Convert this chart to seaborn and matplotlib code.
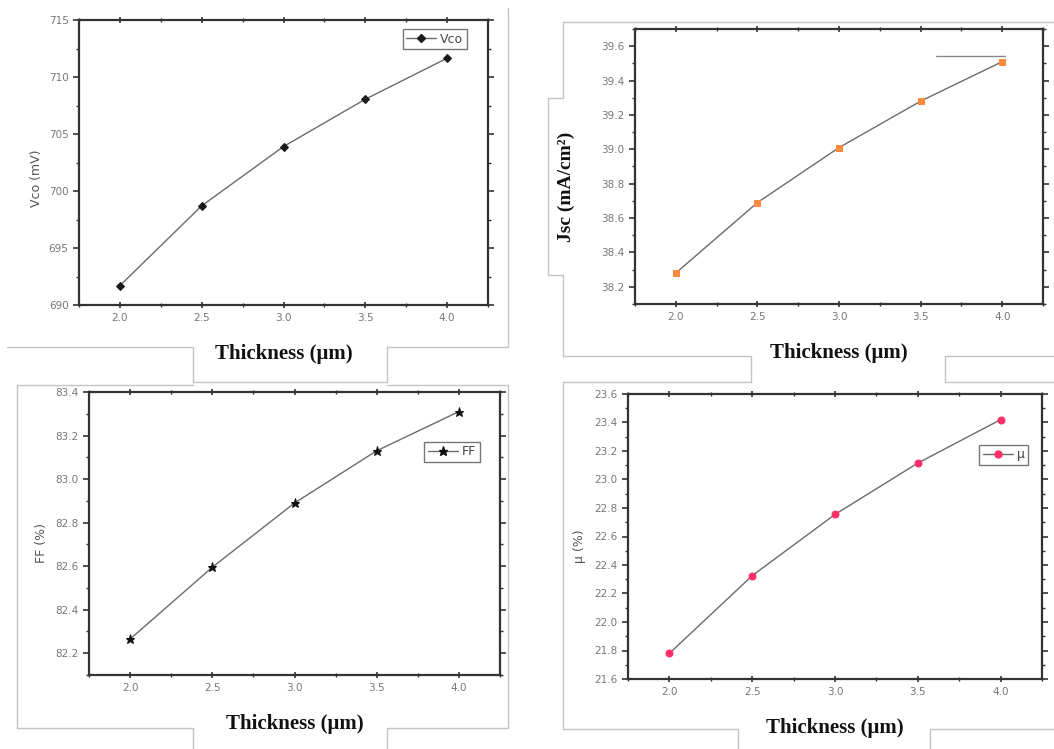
import numpy as np
import pandas as pd
import matplotlib
matplotlib.use("Agg")
import matplotlib.pyplot as plt
from matplotlib.ticker import AutoMinorLocator, MultipleLocator
from matplotlib.lines import Line2D
import seaborn as sns

# ---- data ----
thickness = [2.0, 2.5, 3.0, 3.5, 4.0]
voc = [691.7, 698.7, 703.9, 708.05, 711.65]
jsc = [38.28, 38.69, 39.01, 39.28, 39.51]
ff = [82.265, 82.595, 82.89, 83.13, 83.31]
eta = [21.78, 22.325, 22.755, 23.115, 23.42]

xlabel = "Thickness (\u03bcm)"
ylabels = ["Vco (mV)", "Jsc (mA/cm\u00b2)", "FF (%)", "\u03bc (%)"]
legend_labels = ["Vco", "", "FF", "\u03bc"]

sns.set_style("ticks")
plt.rcParams["font.family"] = ["DejaVu Sans"]

fig = plt.figure(figsize=(10.54, 7.49), dpi=100)
W, H = 1054.0, 749.0

def fr(l, t, r, b):
    return [l / W, 1 - b / H, (r - l) / W, (b - t) / H]

# decorative frames of the pasted panels
frame_c = "#c4c4c4"
def fline(xs, ys):
    fig.add_artist(Line2D([x / W for x in xs], [1 - y / H for y in ys],
                          color=frame_c, lw=1.0, transform=fig.transFigure))

fline([7, 193, 193, 387, 387, 508, 508], [347, 347, 382, 382, 347, 347, 8])
fline([1054, 563, 563, 548, 548, 563, 563, 751, 751], [22, 22, 98, 98, 275, 275, 356, 356, 382])
fline([945, 945, 1054], [382, 356, 356])
fline([193, 17, 17, 193, 193], [385, 385, 728, 728, 749])
fline([387, 508, 508, 387, 387], [385, 385, 728, 728, 749])
fline([751, 563, 563, 738, 738], [382, 382, 729, 729, 749])
fline([945, 1054], [382, 382])
fline([930, 930, 1054], [749, 729, 729])

panels = [
    dict(pos=fr(79, 20, 488, 305), y=voc, ylim=(690, 715), step=5,
         marker="D", ms=4.5, mc="#1a1a1a", ylab_kw=dict(fontsize=9, color="#555555"),
         ylab_xy=(-0.088, 0.446), leg_loc=(0.87, 0.933)),
    dict(pos=fr(635, 29, 1043, 304), y=jsc, ylim=(38.1, 39.7), step=0.2,
         marker="s", ms=4, mc="#ff8a3d",
         ylab_kw=dict(fontsize=14, color="#111111", family="Liberation Serif", weight="bold"),
         ylab_xy=(-0.148, 0.425), leg_loc=None),
    dict(pos=fr(89, 392, 500, 675), y=ff, ylim=(82.1, 83.4), step=0.2,
         marker="*", ms=6.5, mc="#111111", ylab_kw=dict(fontsize=9, color="#555555"),
         ylab_xy=(-0.10, 0.466), leg_loc=(0.883, 0.788)),
    dict(pos=fr(628, 394, 1042, 679), y=eta, ylim=(21.6, 23.6), step=0.2,
         marker="o", ms=5, mc="#ff2f6a", ylab_kw=dict(fontsize=9, color="#555555"),
         ylab_xy=(-0.102, 0.467), leg_loc=(0.908, 0.786)),
]

for i, p in enumerate(panels):
    ax = fig.add_axes(p["pos"])
    df = pd.DataFrame({"x": thickness, "y": p["y"]})
    sns.lineplot(data=df, x="x", y="y", ax=ax, color="#6b6b6b", lw=1.0,
                 marker=p["marker"], markersize=p["ms"], markerfacecolor=p["mc"],
                 markeredgecolor=p["mc"], legend=False)
    ax.set_xlim(1.75, 4.25)
    ax.set_ylim(*p["ylim"])
    ax.yaxis.set_major_locator(MultipleLocator(p["step"]))
    ax.yaxis.set_minor_locator(AutoMinorLocator(2))
    ax.set_xticks(thickness)
    ax.set_xticklabels([f"{t:.1f}" for t in thickness])
    ax.xaxis.set_minor_locator(AutoMinorLocator(2))
    for s in ax.spines.values():
        s.set_visible(True)
        s.set_linewidth(1.6)
        s.set_color("#333333")
    ax.tick_params(axis="both", which="both", top=True, right=True,
                   labelsize=7.5, labelcolor="#777777", color="#333333")
    ax.tick_params(axis="y", which="major", direction="out", length=4, width=1.2)
    ax.tick_params(axis="y", which="minor", direction="out", length=2, width=1.0)
    ax.tick_params(axis="x", which="major", direction="inout", length=5, width=1.2)
    ax.tick_params(axis="x", which="minor", direction="inout", length=3, width=1.0)
    ax.set_xlabel(xlabel, fontsize=15, fontweight="bold", family="Liberation Serif",
                  color="#111111", labelpad=15)
    ax.set_ylabel(ylabels[i], **p["ylab_kw"])
    ax.yaxis.set_label_coords(*p["ylab_xy"])
    if p.get("leg_loc") is not None:
        h = Line2D([], [], color="#6b6b6b", lw=1.0, marker=p["marker"],
                   markersize=p["ms"], markerfacecolor=p["mc"], markeredgecolor=p["mc"])
        leg = ax.legend([h], [legend_labels[i]], loc="center", bbox_to_anchor=p["leg_loc"],
                        fontsize=9, frameon=True, fancybox=False, handlelength=2.4,
                        borderpad=0.3, handletextpad=0.3)
        leg.get_frame().set_edgecolor("#555555")
        leg.get_frame().set_linewidth(1.0)
        for t in leg.get_texts():
            t.set_color("#444444")
    else:
        h = Line2D([], [], color="#888888", lw=1.0)
        ax.legend([h], [" "], loc="center", bbox_to_anchor=(0.84, 0.90),
                  frameon=False, handlelength=5.5, fontsize=9)

fig.savefig("out.png", dpi=100)
